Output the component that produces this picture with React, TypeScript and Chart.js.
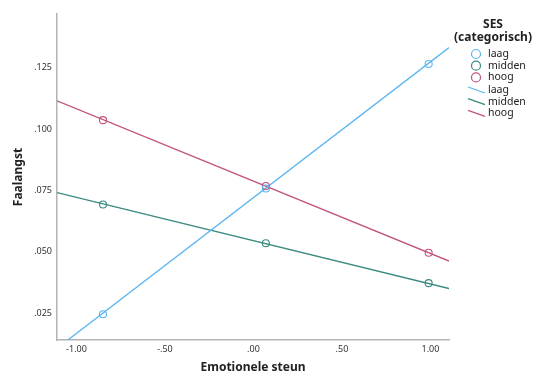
import React, { useEffect, useRef } from "react";
import { Chart, registerables } from "chart.js";

Chart.register(...registerables);

const seriesNames = ["laag", "midden", "hoog"];
const seriesColors = ["#5bb6ee", "#3a8a80", "#c2527f"];
const pointX = [-0.85, 0.07, 0.99];
const laagPoints = [0.0245, 0.0758, 0.1266];
const middenPoints = [0.0693, 0.0535, 0.0372];
const hoogPoints = [0.1037, 0.0768, 0.0496];
const lineX = [-1.11, 1.105];
const laagLine = [0.0106, 0.1333];
const middenLine = [0.0741, 0.0350];
const hoogLine = [0.1116, 0.0462];
const xTicks = [-1, -0.5, 0, 0.5, 1];
const yTicks = [0.025, 0.05, 0.075, 0.1, 0.125];
const legendTitle = ["SES", "(categorisch)"];

const fmt = (v: number, d: number) => {
  const s = Math.abs(v).toFixed(d).replace(/^0/, "");
  return (v < 0 ? "-" : "") + s;
};

const FONT = "'Noto Sans', sans-serif";

const legendPlugin = {
  id: "customLegend",
  afterDraw(chart: any) {
    const ctx = chart.ctx as CanvasRenderingContext2D;
    ctx.save();
    ctx.fillStyle = "#222";
    ctx.textAlign = "center";
    ctx.textBaseline = "middle";
    ctx.font = `bold 12px ${FONT}`;
    ctx.fillText(legendTitle[0], 493, 25);
    ctx.fillText(legendTitle[1], 493, 37.5);
    ctx.font = `10.5px ${FONT}`;
    ctx.textAlign = "left";
    seriesNames.forEach((name, i) => {
      const y = 54 + i * 11.7;
      ctx.strokeStyle = seriesColors[i];
      ctx.lineWidth = 1.2;
      ctx.beginPath();
      ctx.arc(476, y, 4.5, 0, Math.PI * 2);
      ctx.stroke();
      ctx.fillStyle = "#222";
      ctx.fillText(name, 488, y);
    });
    seriesNames.forEach((name, i) => {
      const y = 90 + i * 11.7;
      ctx.strokeStyle = seriesColors[i];
      ctx.lineWidth = 1.3;
      ctx.beginPath();
      ctx.moveTo(468, y - 3);
      ctx.lineTo(485, y + 3);
      ctx.stroke();
      ctx.fillStyle = "#222";
      ctx.fillText(name, 488, y);
    });
    ctx.restore();
  },
};

export default function App() {
  const ref = useRef<HTMLCanvasElement>(null);
  useEffect(() => {
    document.body.style.margin = "0";
    const pts = [laagPoints, middenPoints, hoogPoints];
    const lines = [laagLine, middenLine, hoogLine];
    const datasets: any[] = [];
    pts.forEach((arr, i) => {
      datasets.push({
        label: seriesNames[i],
        data: pointX.map((x, j) => ({ x, y: arr[j] })),
        showLine: false,
        pointRadius: 3.5,
        pointBorderWidth: 1.1,
        pointBorderColor: seriesColors[i],
        pointBackgroundColor: "rgba(0,0,0,0)",
        borderColor: seriesColors[i],
      });
    });
    lines.forEach((arr, i) => {
      datasets.push({
        label: seriesNames[i],
        data: lineX.map((x, j) => ({ x, y: arr[j] })),
        showLine: true,
        pointRadius: 0,
        borderWidth: 1.3,
        borderColor: seriesColors[i],
      });
    });
    const chart = new Chart(ref.current!, {
      type: "scatter",
      data: { datasets },
      options: {
        animation: false,
        responsive: false,
        layout: { padding: { left: 0, right: 88, top: 14, bottom: 0 } },
        plugins: { legend: { display: false }, tooltip: { enabled: false } },
        scales: {
          x: {
            type: "linear",
            min: -1.11,
            max: 1.105,
            afterBuildTicks: (s: any) => {
              s.ticks = xTicks.map((v) => ({ value: v }));
            },
            afterFit: (s: any) => {
              s.height = 36;
            },
            grid: { display: false, drawTicks: false },
            border: { color: "#b4b4b4", width: 1.5 },
            ticks: {
              padding: 4,
              color: "#333",
              font: { family: FONT, size: 9 },
              callback: (v: any) => fmt(Number(v), 2),
            },
            title: {
              display: true,
              text: "Emotionele steun",
              color: "#222",
              font: { family: FONT, size: 12, weight: "bold" },
              padding: { top: 0, bottom: 1 },
            },
          },
          y: {
            type: "linear",
            min: 0.014,
            max: 0.147,
            afterBuildTicks: (s: any) => {
              s.ticks = yTicks.map((v) => ({ value: v }));
            },
            afterFit: (s: any) => {
              s.width = 57;
            },
            grid: { display: false, drawTicks: false },
            border: { color: "#b4b4b4", width: 1.5 },
            ticks: {
              padding: 5,
              color: "#333",
              font: { family: FONT, size: 9 },
              callback: (v: any) => fmt(Number(v), 3),
            },
            title: {
              display: true,
              text: "Faalangst",
              color: "#222",
              font: { family: FONT, size: 12, weight: "bold" },
              padding: { top: 11, bottom: 0 },
            },
          },
        },
      },
      plugins: [legendPlugin],
    });
    return () => chart.destroy();
  }, []);
  return (
    <div style={{ position: "fixed", left: 0, top: 0, width: 537, height: 376 }}>
      <canvas ref={ref} width={537} height={376} />
    </div>
  );
}
